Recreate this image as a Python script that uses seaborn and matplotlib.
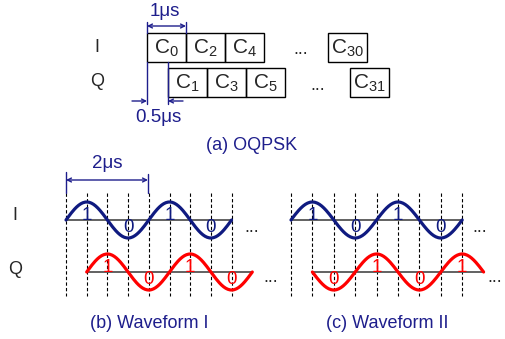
import numpy as np
import pandas as pd
import matplotlib
matplotlib.use("Agg")
import matplotlib.pyplot as plt
from matplotlib.patches import Rectangle
import seaborn as sns

# chip labels in the OQPSK boxes
i_chips = ["0", "2", "4", "30"]
q_chips = ["1", "3", "5", "31"]

# bits carried by each half-sine pulse
bits_b_i = [1, 0, 1, 0]
bits_b_q = [1, 0, 1, 0]
bits_c_i = [1, 0, 1, 0]
bits_c_q = [0, 1, 0, 1]

captions = ["(a) OQPSK", "(b) Waveform I", "(c) Waveform II"]

navy = "#1e1e8c"
wave_blue = "#0f1a80"
red = "#ff0000"

sns.set_theme(style="white")
plt.rcParams['font.family'] = ['Liberation Sans', 'DejaVu Sans']
plt.rcParams['mathtext.fontset'] = 'custom'
plt.rcParams['mathtext.rm'] = 'Liberation Sans'

fig = plt.figure(figsize=(5.05, 3.39), dpi=100)
ax = fig.add_axes([0, 0, 1, 1])
ax.set_xlim(0, 505)
ax.set_ylim(339, 0)
ax.axis('off')

# ---- (a) OQPSK chip layout
bw, bh = 39, 29
i_slots = [0, 1, 2, 4.64]
q_slots = [0, 1, 2, 4.67]
for lab, s in zip(i_chips, i_slots):
    x = 147 + s * bw
    ax.add_patch(Rectangle((x, 33), bw, bh, fill=False, ec='black', lw=1))
    ax.text(x + bw / 2, 48, r"C$_{\mathregular{%s}}$" % lab, ha='center', va='center', fontsize=15)
for lab, s in zip(q_chips, q_slots):
    x = 168 + s * bw
    ax.add_patch(Rectangle((x, 68), bw, bh, fill=False, ec='black', lw=1))
    ax.text(x + bw / 2, 83, r"C$_{\mathregular{%s}}$" % lab, ha='center', va='center', fontsize=15)

ax.text(97, 47, "I", ha='center', va='center', fontsize=13)
ax.text(97, 82, "Q", ha='center', va='center', fontsize=13)
ax.text(301, 50, "...", ha='center', va='center', fontsize=13)
ax.text(318, 86, "...", ha='center', va='center', fontsize=13)

# 1us marker
ax.plot([147, 147], [22, 33], color=navy, lw=1)
ax.plot([186, 186], [22, 33], color=navy, lw=1)
ax.annotate("", xy=(186, 26), xytext=(147, 26),
            arrowprops=dict(arrowstyle='<->', color=navy, lw=1, mutation_scale=7, shrinkA=0, shrinkB=0))
ax.text(165, 12, "1μs", ha='center', va='center', fontsize=13.5, color=navy)

# 0.5us marker
ax.plot([147, 147], [62, 104], color=navy, lw=1)
ax.plot([168, 168], [62, 104], color=navy, lw=1)
ax.annotate("", xy=(147, 101), xytext=(132, 101),
            arrowprops=dict(arrowstyle='->', color=navy, lw=1, mutation_scale=7, shrinkA=0, shrinkB=0))
ax.annotate("", xy=(168, 101), xytext=(183, 101),
            arrowprops=dict(arrowstyle='->', color=navy, lw=1, mutation_scale=7, shrinkA=0, shrinkB=0))
ax.text(158, 117, "0.5μs", ha='center', va='center', fontsize=13.5, color=navy)
ax.text(252, 145, captions[0], ha='center', va='center', fontsize=13, color=navy)


# ---- (b), (c) waveforms
def pulses(bits, x0, dx, base, amp, name):
    rows = []
    for k, b in enumerate(bits):
        t = np.linspace(0, 1, 40)
        sgn = 1 if b else -1
        xs = x0 + 2 * dx * (k + t)
        ys = base - sgn * amp * np.sin(np.pi * t)
        for xx, yy in zip(xs, ys):
            rows.append((xx, yy, name))
    return rows


def bit_labels(bits, x0, dx, base, color):
    for k, b in enumerate(bits):
        xc = x0 + 2 * dx * k + dx
        yc = base - 4 if b else base + 7
        ax.text(xc, yc, str(b), ha='center', va='center', fontsize=13.5, color=color)


panels = [(66, 20.7, bits_b_i, bits_b_q, "b"), (291, 21.4, bits_c_i, bits_c_q, "c")]
rows = []
for x0, dx, bi, bq, nm in panels:
    # dashed grid
    ax.vlines([x0 + k * dx for k in range(9)], 193, 296, colors='black', lw=0.8,
              linestyles=(0, (3, 2)))
    # baselines
    ax.plot([x0, x0 + 8 * dx], [220, 220], color='#555555', lw=1.3)
    ax.plot([x0 + dx, x0 + 9 * dx], [272, 272], color='#555555', lw=1.3)
    rows += pulses(bi, x0, dx, 220, 18, "I" + nm)
    rows += pulses(bq, x0 + dx, dx, 272, 18, "Q" + nm)

df = pd.DataFrame(rows, columns=["x", "y", "wave"])
pal = {"Ib": wave_blue, "Ic": wave_blue, "Qb": red, "Qc": red}
sns.lineplot(data=df, x="x", y="y", hue="wave", palette=pal, sort=False,
             estimator=None, lw=2.3, legend=False, ax=ax)
ax.set_xlim(0, 505)
ax.set_ylim(339, 0)
ax.axis('off')

for x0, dx, bi, bq, nm in panels:
    bit_labels(bi, x0, dx, 220, wave_blue)
    bit_labels(bq, x0 + dx, dx, 272, red)

ax.text(252, 227, "...", ha='center', va='center', fontsize=13)
ax.text(271, 277, "...", ha='center', va='center', fontsize=13)
ax.text(480, 227, "...", ha='center', va='center', fontsize=13)
ax.text(495, 277, "...", ha='center', va='center', fontsize=13)

ax.text(15, 215, "I", ha='center', va='center', fontsize=13)
ax.text(15, 270, "Q", ha='center', va='center', fontsize=13)

# 2us marker
ax.plot([66, 66], [172, 193], color=navy, lw=1)
ax.plot([148, 148], [174, 193], color=navy, lw=1)
ax.annotate("", xy=(148, 180), xytext=(66, 180),
            arrowprops=dict(arrowstyle='<->', color=navy, lw=1, mutation_scale=7, shrinkA=0, shrinkB=0))
ax.text(107, 164, "2μs", ha='center', va='center', fontsize=13.5, color=navy)

ax.text(149, 323, captions[1], ha='center', va='center', fontsize=13, color=navy)
ax.text(387, 323, captions[2], ha='center', va='center', fontsize=13, color=navy)

fig.savefig("out.png", dpi=100)
